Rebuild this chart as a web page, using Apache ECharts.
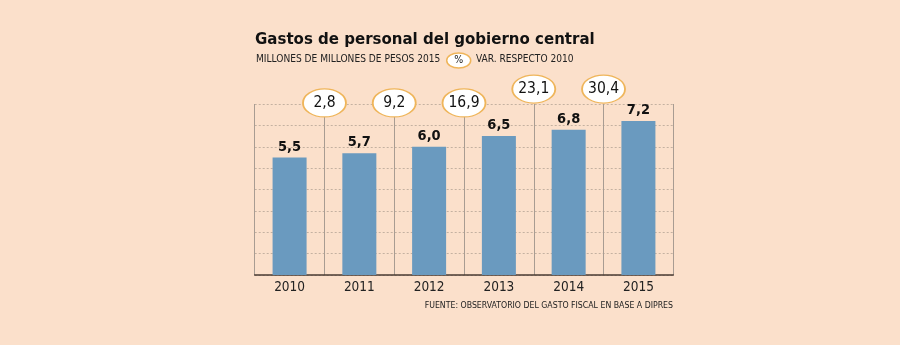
<!DOCTYPE html>
<html><head><meta charset="utf-8">
<script src="https://cdn.jsdelivr.net/npm/echarts@6/dist/echarts.min.js"></script>
<style>html,body{margin:0;padding:0;background:#fbe0cb}#c{width:900px;height:345px}</style>
</head><body><div id="c"></div>
<script>
// ---- data ----
const years = ['2010', '2011', '2012', '2013', '2014', '2015'];
const gasto = [5.5, 5.7, 6.0, 6.5, 6.8, 7.2];          // millones de millones de pesos 2015
const varYears = ['2011', '2012', '2013', '2014', '2015'];
const varPct = [2.8, 9.2, 16.9, 23.1, 30.4];          // % var. respecto 2010
const yMin = 0, yMax = 8, yStep = 1;

// ---- layout constants ----
const FONT = '"DejaVu Sans Condensed", "DejaVu Sans", sans-serif';
const ELL_LOW = 8.04, ELL_HIGH = 8.69;
const comma = v => v.toFixed(1).replace('.', ',');

const chart = echarts.init(document.getElementById('c'), null, {renderer: 'canvas'});
const ellipseData = varYears.map((y, i) => ({
  value: [years.indexOf(y), i >= 3 ? ELL_HIGH : ELL_LOW],
  pct: varPct[i]
}));

chart.setOption({
  backgroundColor: '#fbe0cb',
  animation: false,
  title: {
    text: 'Gastos de personal del gobierno central',
    left: 255, top: 31, padding: 0,
    textStyle: {fontFamily: FONT, fontWeight: 'bold', fontSize: 16.7, color: '#111'}
  },
  graphic: [
    {type: 'text', left: 256, top: 54.5, style: {text: 'MILLONES DE MILLONES DE PESOS 2015', font: '10.1px ' + FONT, fill: '#222'}},
    {type: 'ellipse', shape: {cx: 458.7, cy: 60.5, rx: 12, ry: 7.5}, style: {fill: '#fff', stroke: '#efb55a', lineWidth: 1.5}},
    {type: 'text', x: 458.7, y: 60.5, style: {text: '%', font: '10.5px ' + FONT, fill: '#222', align: 'center', verticalAlign: 'middle'}},
    {type: 'text', left: 476, top: 54.5, style: {text: 'VAR. RESPECTO 2010', font: '10.1px ' + FONT, fill: '#222'}},
    {type: 'text', right: 227, top: 301, style: {text: 'FUENTE: OBSERVATORIO DEL GASTO FISCAL EN BASE A DIPRES', font: '8.7px ' + FONT, fill: '#222'}}
  ],
  grid: [
    {left: 254.7, right: 226.7, top: 104, bottom: 70},
    {left: 254.7, right: 226.7, top: 61, bottom: 70}
  ],
  xAxis: [
    {
      type: 'category', data: years, gridIndex: 0,
      axisLine: {lineStyle: {color: '#4a3b33', width: 1.5}},
      axisTick: {show: false},
      axisLabel: {fontFamily: FONT, fontSize: 13.5, color: '#222', margin: 5},
      splitLine: {show: true, lineStyle: {color: '#a89c92', width: 1}}
    },
    {type: 'value', gridIndex: 1, min: 0, max: years.length, show: false}
  ],
  yAxis: [
    {
      type: 'value', gridIndex: 0, min: yMin, max: yMax, interval: yStep,
      axisLabel: {show: false}, axisLine: {show: false}, axisTick: {show: false},
      splitLine: {lineStyle: {color: '#c4b1a1', type: [2, 2], width: 1}}
    },
    {type: 'value', gridIndex: 1, min: 0, max: 10, show: false}
  ],
  series: [
    {
      type: 'bar', data: gasto, xAxisIndex: 0, yAxisIndex: 0,
      barWidth: 34,
      itemStyle: {color: '#6a9abf'},
      label: {
        show: true, position: 'top', distance: 3,
        fontFamily: FONT, fontWeight: 'bold', fontSize: 14.5, color: '#111',
        formatter: p => comma(p.value)
      }
    },
    {
      type: 'scatter', xAxisIndex: 1, yAxisIndex: 1, z: 10,
      symbol: 'circle', symbolSize: [43, 28],
      data: ellipseData,
      itemStyle: {color: '#fff', borderColor: '#efb55a', borderWidth: 1.5, opacity: 1},
      label: {
        show: true, position: 'inside',
        fontFamily: FONT, fontSize: 15.5, color: '#111',
        formatter: p => comma(p.data.pct)
      }
    }
  ]
});
</script>
</body></html>
